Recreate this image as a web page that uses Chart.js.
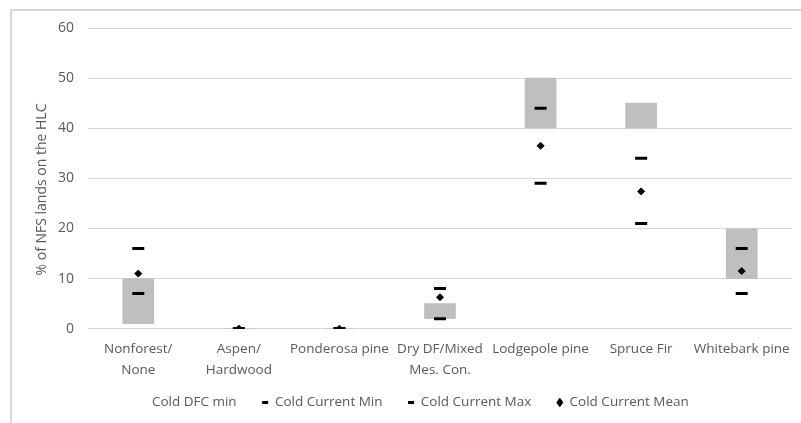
<!DOCTYPE html>
<html>
<head>
<meta charset="utf-8">
<script src="https://cdn.jsdelivr.net/npm/chart.js@4.4.1/dist/chart.umd.min.js"></script>
<style>
  html, body { margin: 0; padding: 0; background: #ffffff; }
  #wrap { position: relative; width: 801px; height: 423px; }
  #frame {
    position: absolute; left: 10px; top: 9px; right: 0; bottom: 0;
    border-left: 2px solid #d9d9d9; border-top: 2px solid #d9d9d9;
    pointer-events: none;
  }
  canvas { position: absolute; left: 0; top: 0; }
</style>
</head>
<body>
<div id="wrap">
  <canvas id="chart" width="801" height="423"></canvas>
  <div id="frame"></div>
</div>
<script>
// Cover types along the x axis
const categories = [
  ['Nonforest/', 'None'],
  ['Aspen/', 'Hardwood'],
  'Ponderosa pine',
  ['Dry DF/Mixed', 'Mes. Con.'],
  'Lodgepole pine',
  'Spruce Fir',
  'Whitebark pine'
];

// Desired future condition range (% of NFS lands)
const dfcMin = [1, 0, 0, 2, 40, 40, 10];
const dfcMax = [10, 0, 0, 5, 50, 45, 20];

// Current condition statistics (% of NFS lands)
const currentMin  = [7, 0, 0, 2, 29, 21, 7];
const currentMax  = [16, 0, 0, 8, 44, 34, 16];
const currentMean = [11, 0, 0, 6.3, 36.5, 27.4, 11.5];

// Y axis ticks
const yTicks = [0, 10, 20, 30, 40, 50, 60];
const yTitle = '% of NFS lands on the HLC';

// Height of the grey band stacked on top of the invisible minimum
const dfcSpan = dfcMax.map((v, i) => v - dfcMin[i]);

const FONT = "'Open Sans', 'Noto Sans', sans-serif";
const TEXT = '#595959';
const LEFT_PAD = 33;

// Marker-only series drawn above the bars
function markerSeries(label, data, style, radius, width) {
  return {
    type: 'line',
    label,
    data,
    stack: label,
    showLine: false,
    pointStyle: style,
    pointRadius: radius,
    pointHoverRadius: radius,
    borderWidth: width,
    borderColor: '#000000',
    backgroundColor: '#000000',
    order: 0
  };
}

// Rotated value-axis title, placed beside the tick labels
const axisTitle = {
  id: 'axisTitle',
  afterDraw(chart) {
    const ctx = chart.ctx;
    ctx.save();
    ctx.translate(42, 189.5);
    ctx.rotate(-Math.PI / 2);
    ctx.fillStyle = TEXT;
    ctx.font = "14px " + FONT;
    ctx.textAlign = 'center';
    ctx.textBaseline = 'middle';
    ctx.fillText(yTitle, 0, 0);
    ctx.restore();
  }
};

new Chart(document.getElementById('chart'), {
  type: 'bar',
  data: {
    labels: categories,
    datasets: [
      {
        label: 'Cold DFC min',
        data: dfcMin,
        backgroundColor: 'rgba(0,0,0,0)',
        borderColor: 'rgba(0,0,0,0)',
        pointStyle: 'rect',
        barThickness: 31,
        stack: 'dfc',
        order: 1
      },
      {
        label: 'Cold DFC range',
        data: dfcSpan,
        backgroundColor: '#bfbfbf',
        borderWidth: 0,
        barThickness: 31,
        stack: 'dfc',
        order: 1
      },
      markerSeries('Cold Current Min', currentMin, 'line', 6, 3),
      markerSeries('Cold Current Max', currentMax, 'line', 6, 3),
      markerSeries('Cold Current Mean', currentMean, 'rectRot', 3.5, 1)
    ]
  },
  plugins: [axisTitle],
  options: {
    responsive: false,
    animation: false,
    layout: { padding: { top: 28, right: 6, bottom: 3.8, left: LEFT_PAD } },
    plugins: {
      tooltip: { enabled: false },
      legend: {
        position: 'bottom',
        labels: {
          usePointStyle: true,
          pointStyleWidth: 6,
          boxHeight: 6,
          padding: 15,
          color: TEXT,
          font: { family: FONT, size: 13.5 },
          generateLabels(chart) {
            const items = Chart.defaults.plugins.legend.labels.generateLabels(chart)
              .filter(item => item.text !== 'Cold DFC range')
              .sort((a, b) => a.datasetIndex - b.datasetIndex);
            // widen the gap between entries
            items.forEach((item, i) => {
              if (i < items.length - 1) item.text += '   ';
            });
            return items;
          }
        }
      }
    },
    scales: {
      x: {
        stacked: true,
        grid: { display: false, drawTicks: false },
        border: { display: false },
        ticks: {
          color: TEXT,
          font: { family: FONT, size: 13.5, lineHeight: 1.55 },
          padding: 10,
          maxRotation: 0,
          autoSkip: false
        },
        afterFit: s => { s.height = 52; }
      },
      y: {
        stacked: true,
        min: 0,
        max: 60,
        afterBuildTicks: s => { s.ticks = yTicks.map(v => ({ value: v })); },
        grid: { color: '#d9d9d9', lineWidth: 1, drawTicks: false },
        border: { display: false },
        ticks: {
          color: TEXT,
          font: { family: FONT, size: 14 },
          padding: 14
        },
        afterFit: s => { s.width = 88 - LEFT_PAD; }
      }
    }
  }
});
</script>
</body>
</html>
